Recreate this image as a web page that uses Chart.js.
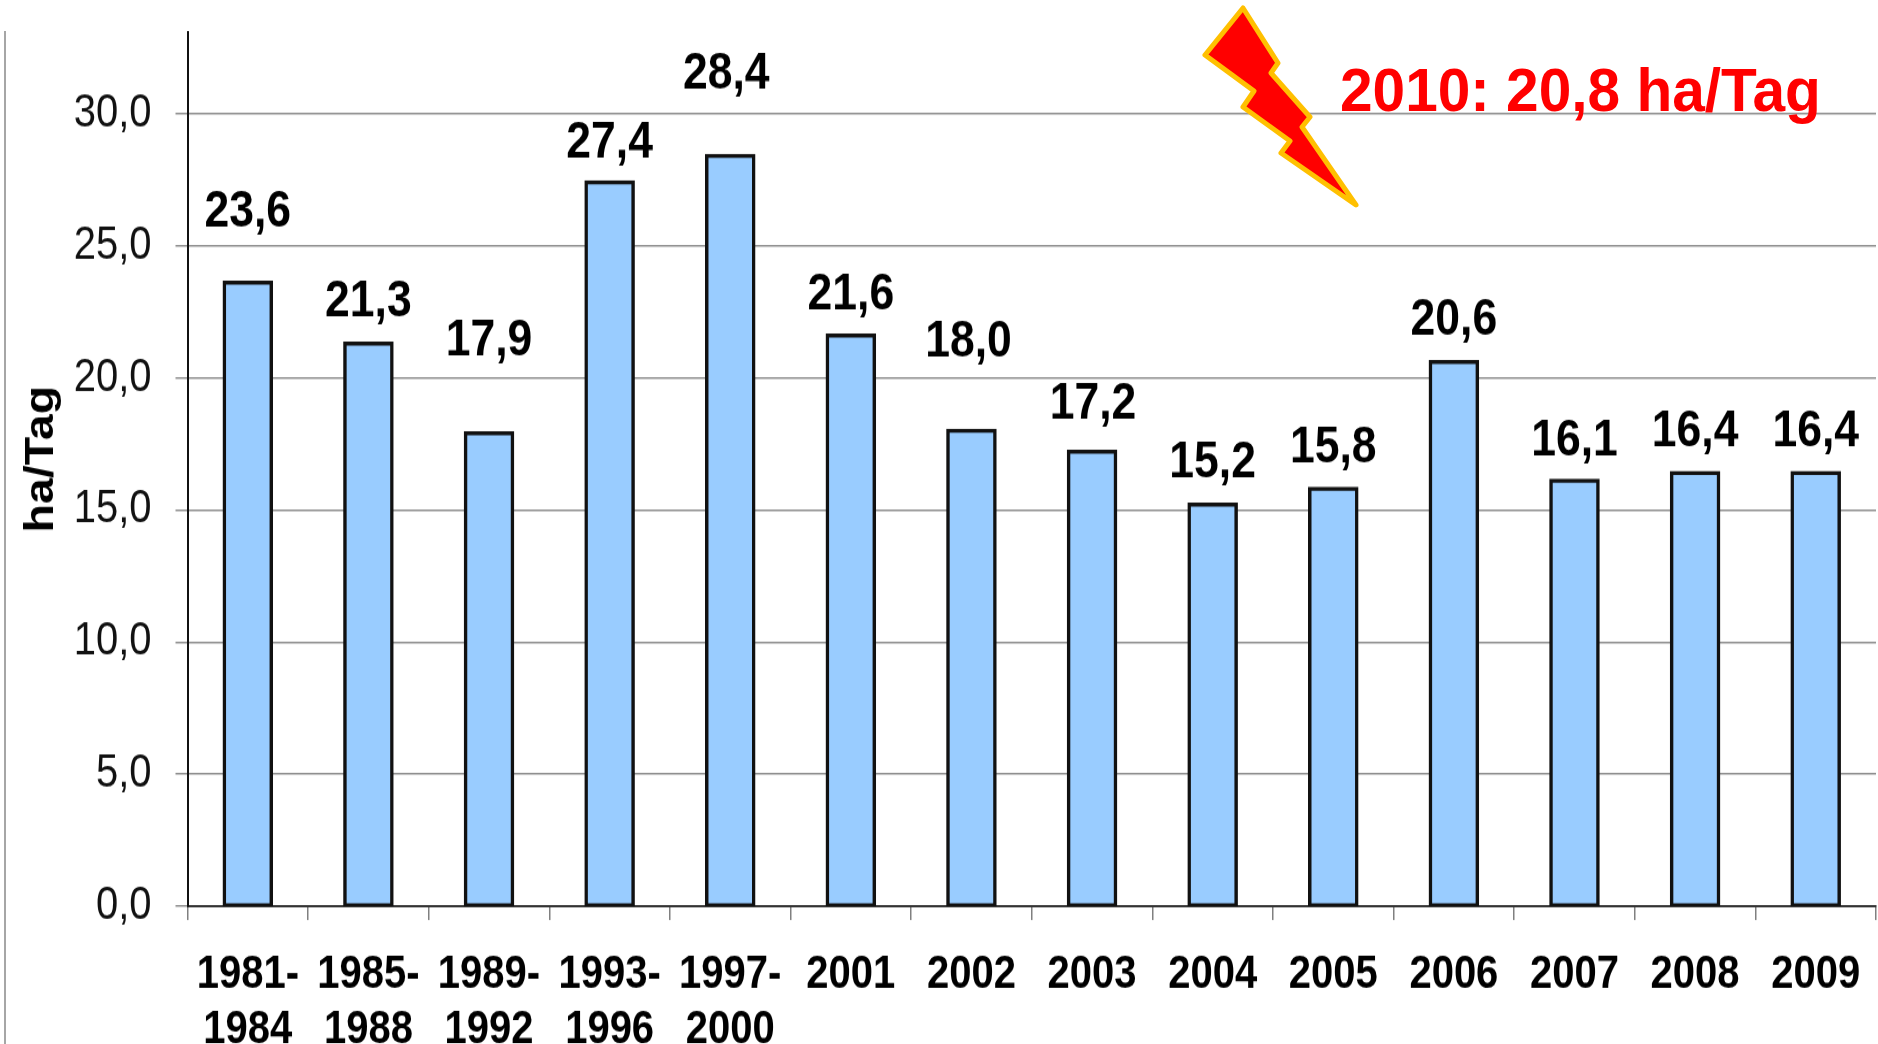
<!DOCTYPE html>
<html>
<head>
<meta charset="utf-8">
<script src="https://cdn.jsdelivr.net/npm/chart.js@4"></script>
<style>
html,body{margin:0;padding:0;background:#fff;overflow:hidden;width:1878px;height:1044px}
#c{position:absolute;left:0;top:0;display:block;transform-origin:0 0;transform:scaleY(1.15)}
#o{position:absolute;left:0;top:0}
</style>
</head>
<body>
<canvas id="c" width="1878" height="908"></canvas>
<svg id="o" width="1878" height="1044" viewBox="0 0 1878 1044">
  <line x1="5" y1="31" x2="5" y2="1044" stroke="#a6a6a6" stroke-width="2"/>
  <polygon points="1243,8 1278,63 1271,73 1310,117 1302,127 1356,205 1281,153 1290,141 1243,107 1254,91 1205,55"
    fill="#ff0000" stroke="#ffc000" stroke-width="5" stroke-linejoin="round"/>
  <text transform="translate(1340,111) scale(1,1.04)" font-family="Liberation Sans" font-weight="bold" font-size="58.6" fill="#ff0000">2010: 20,8 ha/Tag</text>
</svg>
<script>
const categories = [["1981-","1984"],["1985-","1988"],["1989-","1992"],["1993-","1996"],["1997-","2000"],"2001","2002","2003","2004","2005","2006","2007","2008","2009"];
const values = [23.6,21.3,17.9,27.4,28.4,21.6,18.0,17.2,15.2,15.8,20.6,16.1,16.4,16.4];
const yTicks = [0,5,10,15,20,25,30];
const yTitle = "ha/Tag";
const labelLift = [61,36,80,34,71,35,77,41,36,35,36,34,35,35];
const labelNudge = [0,0,0,0,-4,0,-3,1,0,0,0,0,0,0];

const fmt = v => v.toFixed(1).replace(".", ",");
const FONT = "Liberation Sans";

const barLabels = {
  id: "barLabels",
  beforeDraw(chart) {
    const s = chart.scales.y;
    if (s._titleShifted) return;
    s._titleShifted = true;
    const draw = s.drawTitle;
    s.drawTitle = function () {
      chart.ctx.save();
      chart.ctx.translate(0, -8.7);
      draw.call(this);
      chart.ctx.restore();
    };
  },
  afterDatasetsDraw(chart) {
    const ctx = chart.ctx;
    const meta = chart.getDatasetMeta(0);
    ctx.save();
    ctx.font = "bold 44.5px '" + FONT + "'";
    ctx.fillStyle = "#000";
    ctx.textAlign = "center";
    ctx.textBaseline = "middle";
    meta.data.forEach((bar, i) => {
      ctx.fillText(fmt(values[i]), bar.x + labelNudge[i], bar.y - labelLift[i]);
    });
    ctx.restore();
  }
};

new Chart(document.getElementById("c"), {
  type: "bar",
  data: {
    labels: categories,
    datasets: [{
      data: values,
      backgroundColor: "#99ccff",
      borderColor: "#111111",
      borderWidth: 3.5,
      borderSkipped: false,
      inflateAmount: 1.75,
      barPercentage: 0.39,
      categoryPercentage: 1
    }]
  },
  plugins: [barLabels],
  options: {
    responsive: false,
    animation: false,
    devicePixelRatio: 1,
    layout: { autoPadding: false, padding: { top: 28, right: 2, left: 0, bottom: 0 } },
    plugins: { legend: { display: false }, title: { display: false }, tooltip: { enabled: false } },
    scales: {
      x: {
        type: "category",
        offset: true,
        afterFit(s) { s.height = 120; s.paddingLeft = 0; s.paddingRight = 0; },
        grid: { offset: true, drawOnChartArea: false, drawTicks: true, tickLength: 12, color: "#808080", lineWidth: 1.5 },
        border: { display: true, color: "#333333", width: 2 },
        ticks: { color: "#000", font: { family: FONT, size: 40, weight: "bold" }, padding: 24, maxRotation: 0, minRotation: 0, autoSkip: false }
      },
      y: {
        type: "linear",
        min: 0,
        max: 33.08,
        afterBuildTicks(s) { s.ticks = yTicks.map(v => ({ value: v })); },
        afterFit(s) { s.width = 187.5; s.paddingTop = 0; s.paddingBottom = 0; },
        grid: { color: "#8c8c8c", lineWidth: 1.5, tickLength: 12, drawTicks: true },
        border: { display: true, color: "#111111", width: 2 },
        title: { display: true, text: yTitle, color: "#000", font: { family: FONT, size: 40.5, weight: "bold" }, padding: { top: 18, bottom: 0 } },
        ticks: { color: "#111", font: { family: FONT, size: 40 }, padding: 24, callback: v => fmt(v) }
      }
    }
  }
});
</script>
</body>
</html>
